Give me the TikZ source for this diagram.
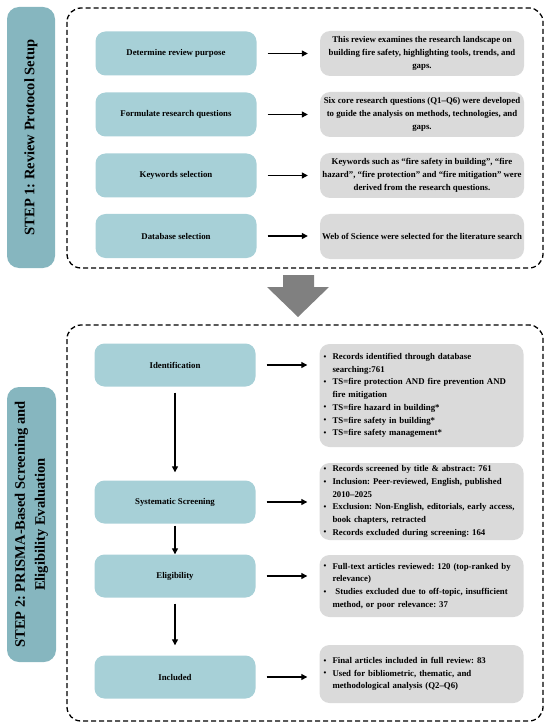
\documentclass[tikz,border=0pt]{standalone}
\usepackage{fontspec}
\setmainfont{Liberation Serif}
\usetikzlibrary{arrows.meta}

\definecolor{tealbox}{HTML}{A7D0D7}
\definecolor{tealtab}{HTML}{86B6BF}
\definecolor{greybox}{HTML}{DADADA}
\definecolor{bigarrow}{HTML}{808080}

\frenchspacing
\newcommand{\pbul}{\makebox[9pt][l]{\raisebox{0.1ex}{\scalebox{0.9}{\textbullet}}}}
\newcommand{\pcont}{\hspace*{9pt}}

\begin{document}
\begin{tikzpicture}[x=1pt,y=-1pt,
    font=\fontsize{8.8}{13}\selectfont\bfseries,
    stepbox/.style={rounded corners=10pt,fill=tealbox,minimum width=161pt,inner sep=0pt},
    notebox/.style={rounded corners=10pt,fill=greybox,minimum width=204pt,inner sep=0pt},
    tabbox/.style={rounded corners=12pt,fill=tealtab,rotate=90,inner sep=0pt,align=center,
      font=\fontsize{14.5}{20}\selectfont\bfseries},
    dashbox/.style={draw,line width=1.3pt,dash pattern=on 5pt off 3pt,rounded corners=14pt},
    flow/.style={draw,line width=1.2pt,-{Triangle[length=6pt,width=6pt]}}]

        \useasboundingbox (0,0) rectangle (550,727);

        % frames
        \draw[dashbox] (67,8) rectangle (543,268);
        \draw[dashbox] (67,325) rectangle (543,721);
        \fill[bigarrow] (283,275) -- (314,275) -- (314,287) -- (329,287)
          -- (298,317) -- (267,287) -- (283,287) -- cycle;

        \node[tabbox,minimum width=261pt,minimum height=48pt] (tab1) at (31,137.5)
          {STEP 1: Review Protocol Setup};
        \node[tabbox,minimum width=275pt,minimum height=49pt] (tab2) at (31.5,524.5)
          {STEP 2: PRISMA-Based Screening and\\Eligibility Evaluation};

        % step 1
        \begin{scope}[every node/.style={stepbox,minimum height=44pt}]
          \node (purpose)  at (176,53.5) {Determine review purpose};
          \node (question) at (176,114.5) {Formulate research questions};
          \node (keyword)  at (176,175.5) {Keywords selection};
          \node (database) at (176,236) {Database selection};
        \end{scope}

        \begin{scope}[every node/.style={notebox,minimum height=45pt,align=center}]
          \node (purposenote)  at (422,53.5) {This review examines the research landscape on\\
            building fire safety, highlighting tools, trends, and\\gaps.};
          \node (questionnote) at (422,114.5) {Six core research questions (Q1–Q6) were developed\\
            to guide the analysis on methods, technologies, and\\gaps.};
          \node (keywordnote)  at (422,175.5) {Keywords such as “fire safety in building”, “fire\\
            hazard”, “fire protection” and “fire mitigation” were\\derived from the research questions.};
          \node (databasenote) at (422,236.5) {Web of Science were selected for the literature search};
        \end{scope}

        % step 2
        \begin{scope}[every node/.style={stepbox,minimum height=43pt}]
          \node (ident)    at (175,365) {Identification};
          \node (screen)   at (175,502) {Systematic Screening};
          \node (eligible) at (175,576) {Eligibility};
          \node (include)  at (175,677) {Included};
        \end{scope}

        \begin{scope}[every node/.style={notebox,text width=196pt,inner xsep=4pt,align=left,
            font=\fontsize{8.8}{12.7}\selectfont\bfseries}]
          \node[minimum height=103pt] (identnote) at (421.5,395.5) {%
            \pbul Records identified through database\\
            \pcont searching:761\\
            \pbul TS=fire protection AND fire prevention AND\\
            \pcont fire mitigation\\
            \pbul TS=fire hazard in building*\\
            \pbul TS=fire safety in building*\\
            \pbul TS=fire safety management*};
          \node[minimum height=77pt] (screennote) at (421.5,501.5) {%
            \pbul Records screened by title \& abstract: 761\\
            \pbul Inclusion: Peer-reviewed, English, published\\
            \pcont 2010–2025\\
            \pbul Exclusion: Non-English, editorials, early access,\\
            \pcont book chapters, retracted\\
            \pbul Records excluded during screening: 164};
          \node[minimum height=62pt] (eligiblenote) at (421.5,586) {%
            \pbul Full-text articles reviewed: 120 (top-ranked by\\
            \pcont relevance)\\
            \pbul\ Studies excluded due to off-topic, insufficient\\
            \pcont method, or poor relevance: 37};
          \node[minimum height=58pt] (includenote) at (421.5,674) {%
            \pbul Final articles included in full review: 83\\
            \pbul Used for bibliometric, thematic, and\\
            \pcont methodological analysis (Q2–Q6)};
        \end{scope}

        \begin{scope}[every edge/.style={flow,shorten <=11pt,shorten >=12pt}]
          \path (purpose)  edge (purposenote);
          \path (question) edge (questionnote);
          \path (keyword)  edge (keywordnote);
          \path (database) edge (database -| databasenote.west);
          \path (ident.east)    edge (ident.east -| identnote.west);
          \path (screen.east)   edge (screen.east -| screennote.west);
          \path (eligible.east) edge (eligible.east -| eligiblenote.west);
          \path (include.east)  edge (include.east -| includenote.west);
        \end{scope}

        \begin{scope}[every edge/.style={flow}]
          \path (ident)    edge[shorten <=6pt,shorten >=8pt] (screen);
          \path (screen)   edge[shorten <=2pt] (eligible);
          \path (eligible) edge[shorten <=6pt,shorten >=10pt] (include);
        \end{scope}

      \end{tikzpicture}
\end{document}
